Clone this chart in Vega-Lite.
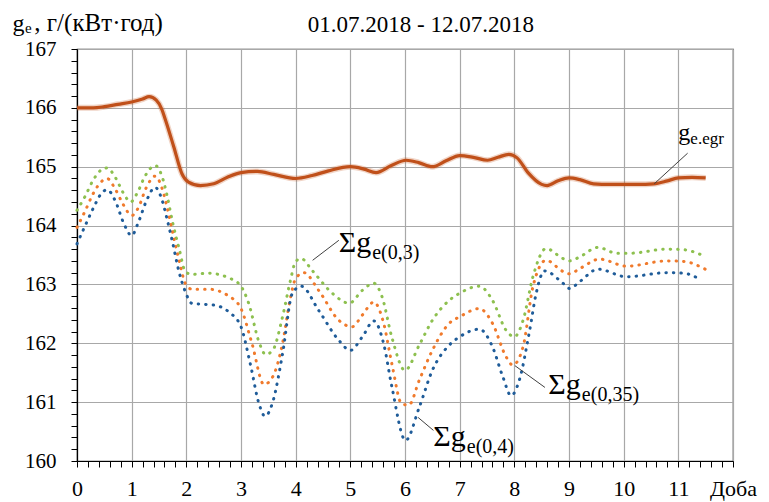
{
  "$schema": "https://vega.github.io/schema/vega-lite/v6.json",
  "width": 656,
  "height": 412,
  "autosize": {"type": "none"},
  "padding": {"left": 77, "top": 49, "right": 36, "bottom": 41},
  "background": "white",
  "config": {
    "view": {"stroke": "#303030", "strokeWidth": 1.2},
    "font": "Liberation Serif, Times New Roman, serif"
  },
  "datasets": {
    "main": [
      {"x": 0, "v": 166.0}, {"x": 0.3, "v": 166.0}, {"x": 0.5, "v": 166.02}, {"x": 0.75, "v": 166.06},
      {"x": 1.0, "v": 166.1}, {"x": 1.2, "v": 166.15}, {"x": 1.32, "v": 166.19}, {"x": 1.45, "v": 166.13},
      {"x": 1.55, "v": 165.98}, {"x": 1.62, "v": 165.79}, {"x": 1.77, "v": 165.34}, {"x": 1.92, "v": 164.88},
      {"x": 2.04, "v": 164.74}, {"x": 2.26, "v": 164.68}, {"x": 2.5, "v": 164.71}, {"x": 2.75, "v": 164.82},
      {"x": 3.0, "v": 164.9}, {"x": 3.3, "v": 164.92}, {"x": 3.6, "v": 164.87}, {"x": 4.0, "v": 164.8},
      {"x": 4.3, "v": 164.85}, {"x": 4.6, "v": 164.93}, {"x": 5.0, "v": 165.0}, {"x": 5.25, "v": 164.96},
      {"x": 5.47, "v": 164.9}, {"x": 5.75, "v": 165.02}, {"x": 6.02, "v": 165.11}, {"x": 6.25, "v": 165.07},
      {"x": 6.5, "v": 165.0}, {"x": 6.75, "v": 165.1}, {"x": 7.0, "v": 165.19}, {"x": 7.25, "v": 165.16},
      {"x": 7.51, "v": 165.11}, {"x": 7.7, "v": 165.16}, {"x": 7.9, "v": 165.21}, {"x": 8.05, "v": 165.15},
      {"x": 8.25, "v": 164.9}, {"x": 8.5, "v": 164.7}, {"x": 8.6, "v": 164.68}, {"x": 8.8, "v": 164.76},
      {"x": 9.0, "v": 164.81}, {"x": 9.2, "v": 164.78}, {"x": 9.45, "v": 164.71}, {"x": 9.75, "v": 164.7},
      {"x": 10.0, "v": 164.7}, {"x": 10.25, "v": 164.7}, {"x": 10.55, "v": 164.71}, {"x": 10.8, "v": 164.76},
      {"x": 11.0, "v": 164.81}, {"x": 11.25, "v": 164.82}, {"x": 11.5, "v": 164.81}
    ],
    "g03": [
      {"x": 0, "v": 164.26}, {"x": 0.15, "v": 164.5}, {"x": 0.3, "v": 164.78}, {"x": 0.45, "v": 164.95},
      {"x": 0.55, "v": 164.98}, {"x": 0.7, "v": 164.82}, {"x": 0.85, "v": 164.55}, {"x": 0.98, "v": 164.4},
      {"x": 1.1, "v": 164.55}, {"x": 1.25, "v": 164.85}, {"x": 1.43, "v": 165.02}, {"x": 1.55, "v": 164.85},
      {"x": 1.65, "v": 164.5}, {"x": 1.75, "v": 164.05}, {"x": 1.87, "v": 163.6}, {"x": 1.98, "v": 163.22},
      {"x": 2.1, "v": 163.17}, {"x": 2.4, "v": 163.19}, {"x": 2.78, "v": 163.11}, {"x": 3.0, "v": 162.97},
      {"x": 3.14, "v": 162.68}, {"x": 3.33, "v": 162.02}, {"x": 3.45, "v": 161.81}, {"x": 3.58, "v": 161.88},
      {"x": 3.76, "v": 162.45}, {"x": 3.9, "v": 163.05}, {"x": 4.0, "v": 163.39}, {"x": 4.1, "v": 163.44},
      {"x": 4.3, "v": 163.24}, {"x": 4.67, "v": 162.85}, {"x": 4.98, "v": 162.68}, {"x": 5.22, "v": 162.9},
      {"x": 5.43, "v": 163.02}, {"x": 5.58, "v": 162.79}, {"x": 5.76, "v": 162.1}, {"x": 6.0, "v": 161.54},
      {"x": 6.26, "v": 161.97}, {"x": 6.5, "v": 162.39}, {"x": 6.81, "v": 162.73}, {"x": 7.0, "v": 162.85},
      {"x": 7.36, "v": 162.97}, {"x": 7.6, "v": 162.73}, {"x": 7.85, "v": 162.22}, {"x": 8.0, "v": 162.11},
      {"x": 8.16, "v": 162.39}, {"x": 8.34, "v": 163.13}, {"x": 8.58, "v": 163.61}, {"x": 8.89, "v": 163.44},
      {"x": 9.01, "v": 163.4}, {"x": 9.2, "v": 163.47}, {"x": 9.53, "v": 163.63}, {"x": 9.87, "v": 163.53},
      {"x": 10.11, "v": 163.53}, {"x": 10.79, "v": 163.6}, {"x": 11.1, "v": 163.59}, {"x": 11.43, "v": 163.5}
    ],
    "g035": [
      {"x": 0, "v": 163.97}, {"x": 0.15, "v": 164.25}, {"x": 0.3, "v": 164.55}, {"x": 0.45, "v": 164.75},
      {"x": 0.55, "v": 164.8}, {"x": 0.7, "v": 164.62}, {"x": 0.85, "v": 164.35}, {"x": 1.0, "v": 164.17},
      {"x": 1.12, "v": 164.3}, {"x": 1.27, "v": 164.65}, {"x": 1.43, "v": 164.84}, {"x": 1.55, "v": 164.65},
      {"x": 1.65, "v": 164.3}, {"x": 1.74, "v": 163.92}, {"x": 1.87, "v": 163.4}, {"x": 1.98, "v": 163.02},
      {"x": 2.1, "v": 162.92}, {"x": 2.4, "v": 162.92}, {"x": 2.78, "v": 162.8}, {"x": 3.0, "v": 162.59},
      {"x": 3.2, "v": 162.0}, {"x": 3.42, "v": 161.3}, {"x": 3.58, "v": 161.43}, {"x": 3.76, "v": 162.0},
      {"x": 3.9, "v": 162.75}, {"x": 4.0, "v": 163.1}, {"x": 4.15, "v": 163.2}, {"x": 4.42, "v": 162.9},
      {"x": 4.79, "v": 162.39}, {"x": 5.03, "v": 162.28}, {"x": 5.22, "v": 162.48}, {"x": 5.43, "v": 162.7},
      {"x": 5.61, "v": 162.34}, {"x": 5.76, "v": 161.65}, {"x": 5.94, "v": 160.97}, {"x": 6.07, "v": 160.95},
      {"x": 6.26, "v": 161.37}, {"x": 6.5, "v": 161.88}, {"x": 6.81, "v": 162.34}, {"x": 7.0, "v": 162.45},
      {"x": 7.36, "v": 162.59}, {"x": 7.6, "v": 162.34}, {"x": 7.85, "v": 161.77}, {"x": 7.97, "v": 161.63},
      {"x": 8.16, "v": 161.94}, {"x": 8.34, "v": 162.96}, {"x": 8.58, "v": 163.41}, {"x": 8.89, "v": 163.22},
      {"x": 9.01, "v": 163.18}, {"x": 9.2, "v": 163.27}, {"x": 9.56, "v": 163.43}, {"x": 10.05, "v": 163.31},
      {"x": 10.79, "v": 163.4}, {"x": 11.1, "v": 163.39}, {"x": 11.49, "v": 163.26}
    ],
    "g04": [
      {"x": 0, "v": 163.69}, {"x": 0.15, "v": 164.0}, {"x": 0.3, "v": 164.3}, {"x": 0.45, "v": 164.55},
      {"x": 0.55, "v": 164.61}, {"x": 0.7, "v": 164.42}, {"x": 0.85, "v": 164.05}, {"x": 1.0, "v": 163.83},
      {"x": 1.12, "v": 164.05}, {"x": 1.27, "v": 164.42}, {"x": 1.43, "v": 164.65}, {"x": 1.55, "v": 164.45},
      {"x": 1.65, "v": 164.1}, {"x": 1.74, "v": 163.75}, {"x": 1.87, "v": 163.2}, {"x": 1.98, "v": 162.88},
      {"x": 2.1, "v": 162.68}, {"x": 2.35, "v": 162.66}, {"x": 2.5, "v": 162.65}, {"x": 2.78, "v": 162.53},
      {"x": 3.0, "v": 162.28}, {"x": 3.17, "v": 161.65}, {"x": 3.33, "v": 160.97}, {"x": 3.44, "v": 160.76},
      {"x": 3.58, "v": 161.0}, {"x": 3.76, "v": 161.82}, {"x": 3.94, "v": 162.85}, {"x": 4.1, "v": 162.97},
      {"x": 4.42, "v": 162.56}, {"x": 4.79, "v": 162.05}, {"x": 5.0, "v": 161.88}, {"x": 5.22, "v": 162.11},
      {"x": 5.43, "v": 162.38}, {"x": 5.61, "v": 161.99}, {"x": 5.76, "v": 161.26}, {"x": 6.01, "v": 160.35},
      {"x": 6.26, "v": 160.91}, {"x": 6.5, "v": 161.54}, {"x": 6.81, "v": 161.97}, {"x": 7.0, "v": 162.11},
      {"x": 7.36, "v": 162.24}, {"x": 7.6, "v": 161.94}, {"x": 7.79, "v": 161.43}, {"x": 7.94, "v": 161.11},
      {"x": 8.09, "v": 161.37}, {"x": 8.28, "v": 162.22}, {"x": 8.4, "v": 162.85}, {"x": 8.55, "v": 163.23},
      {"x": 8.89, "v": 163.02}, {"x": 9.01, "v": 162.93}, {"x": 9.2, "v": 163.05}, {"x": 9.53, "v": 163.26},
      {"x": 10.05, "v": 163.13}, {"x": 10.79, "v": 163.2}, {"x": 11.1, "v": 163.19}, {"x": 11.43, "v": 163.07}
    ],
    "leaders": [
      {"x1": 4.31, "y1": 163.41, "x2": 4.79, "y2": 163.75},
      {"x1": 10.56, "y1": 164.71, "x2": 11.17, "y2": 165.23},
      {"x1": 8.01, "y1": 161.62, "x2": 8.56, "y2": 161.25},
      {"x1": 6.24, "y1": 160.74, "x2": 6.52, "y2": 160.52}
    ],
    "labels": [
      {"x": 4.79, "y": 163.547, "t": "Σg", "fs": 30},
      {"x": 5.4, "y": 163.433, "t": "e(0,3)", "fs": 20},
      {"x": 8.62, "y": 161.135, "t": "Σg", "fs": 30},
      {"x": 9.235, "y": 161.02, "t": "e(0,35)", "fs": 20},
      {"x": 6.517, "y": 160.254, "t": "Σg", "fs": 30},
      {"x": 7.13, "y": 160.14, "t": "e(0,4)", "fs": 20},
      {"x": 11.0, "y": 165.46, "t": "g", "fs": 24},
      {"x": 11.22, "y": 165.38, "t": "e.egr", "fs": 17},
      {"x": -1.18, "y": 167.3, "t": "g", "fs": 24},
      {"x": -0.95, "y": 167.265, "t": "e", "fs": 15},
      {"x": -0.78, "y": 167.3, "t": ", г/(кВт·год)", "fs": 25}
    ],
    "title": [
      {"x": 6.29, "y": 167.295, "t": "01.07.2018 - 12.07.2018"}
    ]
  },
  "encoding": {
    "x": {
      "field": "x", "type": "quantitative",
      "scale": {"domain": [0, 12], "nice": false, "zero": false},
      "axis": {
        "title": null,
        "values": [0,0.2,0.4,0.6,0.8,1,1.2,1.4,1.6,1.8,2,2.2,2.4,2.6,2.8,3,3.2,3.4,3.6,3.8,4,4.2,4.4,4.6,4.8,5,5.2,5.4,5.6,5.8,6,6.2,6.4,6.6,6.8,7,7.2,7.4,7.6,7.8,8,8.2,8.4,8.6,8.8,9,9.2,9.4,9.6,9.8,10,10.2,10.4,10.6,10.8,11,11.2,11.4,11.6,11.8,12],
        "grid": true,
        "gridColor": {"condition": {"test": "datum.value % 1 != 0", "value": "rgba(0,0,0,0)"}, "value": "#A8A8A8"},
        "gridWidth": 1.2,
        "labelExpr": "datum.value == 12 ? 'Доба' : (datum.value % 1 == 0 ? '' + datum.value : '')",
        "labelOverlap": false,
        "labelBound": false,
        "labelFlush": false,
        "labelFont": "Liberation Serif, Times New Roman, serif",
        "labelFontSize": 22,
        "labelColor": "black",
        "labelPadding": 11,
        "tickSize": 6,
        "tickColor": "black",
        "tickWidth": 1,
        "domainColor": "black",
        "domainWidth": 1.2
      }
    },
    "y": {
      "field": "v", "type": "quantitative",
      "scale": {"domain": [160, 167], "nice": false, "zero": false},
      "axis": {
        "title": null,
        "values": [160,160.2,160.4,160.6,160.8,161,161.2,161.4,161.6,161.8,162,162.2,162.4,162.6,162.8,163,163.2,163.4,163.6,163.8,164,164.2,164.4,164.6,164.8,165,165.2,165.4,165.6,165.8,166,166.2,166.4,166.6,166.8,167],
        "grid": true,
        "gridColor": {"condition": {"test": "datum.value % 1 > 0.01 && datum.value % 1 < 0.99", "value": "rgba(0,0,0,0)"}, "value": "#A8A8A8"},
        "gridWidth": 1.2,
        "labelExpr": "(datum.value % 1 < 0.01 || datum.value % 1 > 0.99) ? '' + round(datum.value) : ''",
        "labelOverlap": false,
        "labelFont": "Liberation Serif, Times New Roman, serif",
        "labelFontSize": 21,
        "labelColor": "black",
        "labelPadding": 15,
        "tickSize": 6,
        "tickColor": "black",
        "domainColor": "black",
        "domainWidth": 1.2
      }
    }
  },
  "layer": [
    {
      "data": {"name": "g03"},
      "mark": {"type": "line", "interpolate": "monotone", "color": "#8DC04F", "strokeWidth": 3, "strokeCap": "round", "strokeDash": [0.5, 7]}
    },
    {
      "data": {"name": "g035"},
      "mark": {"type": "line", "interpolate": "monotone", "color": "#F07A2C", "strokeWidth": 3, "strokeCap": "round", "strokeDash": [0.5, 7]}
    },
    {
      "data": {"name": "g04"},
      "mark": {"type": "line", "interpolate": "monotone", "color": "#1F5C99", "strokeWidth": 3, "strokeCap": "round", "strokeDash": [0.5, 7]}
    },
    {
      "data": {"name": "main"},
      "mark": {"type": "line", "interpolate": "monotone", "color": "#C5531C", "strokeWidth": 6, "opacity": 0.25}
    },
    {
      "data": {"name": "main"},
      "mark": {"type": "line", "interpolate": "monotone", "color": "#C0501A", "strokeWidth": 3.2}
    },
    {
      "data": {"name": "leaders"},
      "mark": {"type": "rule", "color": "#404040", "strokeWidth": 1},
      "encoding": {
        "x": {"field": "x1", "type": "quantitative"},
        "y": {"field": "y1", "type": "quantitative"},
        "x2": {"field": "x2"},
        "y2": {"field": "y2"}
      }
    },
    {
      "data": {"name": "labels"},
      "mark": {"type": "text", "align": "left", "baseline": "alphabetic", "font": "Liberation Serif, Times New Roman, serif", "color": "black"},
      "encoding": {
        "x": {"field": "x", "type": "quantitative"},
        "y": {"field": "y", "type": "quantitative"},
        "text": {"field": "t"},
        "size": {"field": "fs", "type": "quantitative", "scale": null, "legend": null}
      }
    },
    {
      "data": {"name": "title"},
      "mark": {"type": "text", "align": "center", "baseline": "alphabetic", "font": "Liberation Serif, Times New Roman, serif", "fontSize": 23, "color": "black"},
      "encoding": {
        "x": {"field": "x", "type": "quantitative"},
        "y": {"field": "y", "type": "quantitative"},
        "text": {"field": "t"}
      }
    }
  ]
}
